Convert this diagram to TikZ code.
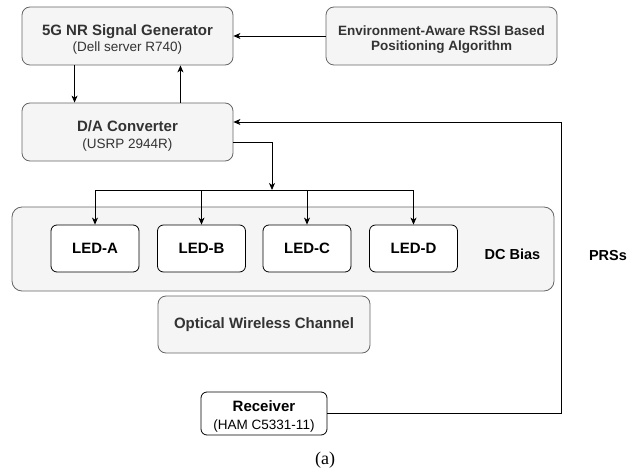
\documentclass[tikz,border=0pt]{standalone}
\usepackage{fontspec}
\setmainfont{Liberation Sans}
\newfontfamily\captionserif{Liberation Serif}
\usepackage{tikz}
\usetikzlibrary{calc,positioning,arrows.meta}
\definecolor{boxgray}{RGB}{245, 245, 245}
\definecolor{edgegray}{RGB}{102, 102, 102}
\definecolor{textgray}{RGB}{51, 51, 51}
\newcommand{\subline}{\fontsize{13.5}{16}\selectfont\mdseries}
\newcommand{\topstrut}{\rule{0pt}{17pt}}

\begin{document}
\begin{tikzpicture}[
    x=1pt, y=-1pt,
    block/.style={draw=edgegray, line width=0.8pt, fill=boxgray, rounded corners=8pt, align=center, text=textgray, font=\fontsize{15}{17}\selectfont\bfseries, inner sep=0pt},
    led/.style={draw=black, line width=0.8pt, fill=white, rounded corners=6pt, minimum width=88pt, minimum height=47pt, align=center, font=\fontsize{15}{17}\selectfont\bfseries, inner sep=0pt},
    tag/.style={font=\fontsize{14.5}{16}\selectfont\bfseries, text=black},
    arrow/.style={-{Stealth[length=7pt, width=6pt, inset=2pt]}, line width=0.8pt, color=black}
]
    \useasboundingbox (0,0) rectangle (639,473);

    % Nodes
    \node [block, minimum width=211pt, minimum height=58pt] (gen) at (127.5,36) {\topstrut 5G NR Signal Generator\\[-1pt]{\subline (Dell server R740)}};
    \node [block, minimum width=231pt, minimum height=58pt, font=\fontsize{13.5}{16}\selectfont\bfseries] (env) at (441.5,36) {\topstrut Environment-Aware RSSI Based\\[-1pt]Positioning Algorithm};
    \node [block, minimum width=211pt, minimum height=58pt] (dac) at (127.5,132) {\rule{0pt}{18pt}D/A Converter\\[0pt]{\subline (USRP 2944R)}};
    \node [block, minimum width=542pt, minimum height=84pt, rounded corners=10pt] (dcbias) at (283,249) {};
    \node [tag] (dclabel) at (512.5,254) {DC Bias};
    \node [led] (leda) at (95,248.5) {LED-A};
    \node [led] (ledb) at (201.5,248.5) {LED-B};
    \node [led] (ledc) at (307,248.5) {LED-C};
    \node [led] (ledd) at (413.5,248.5) {LED-D};
    \node [block, minimum width=212pt, minimum height=57pt] (owc) at (264,324.5) {Optical Wireless Channel};
    \node [led, minimum width=126pt, minimum height=43pt] (rx) at (264,413.5) {\topstrut Receiver\\[1pt]{\subline (HAM C5331-11)}};
    \node [tag] (prslabel) at (608,256) {PRSs};
    \node [font=\captionserif\fontsize{18}{20}\selectfont] (caption) at (325,460) {(a)};
    \coordinate (bus) at (272,190);
    \coordinate (prs) at (561,122);

    % Paths
    \draw [arrow] (env) -- (gen);
    \draw [arrow] ($(gen.south west)!0.25!(gen.south east)$) -- ($(dac.north west)!0.25!(dac.north east)$);
    \draw [arrow] ($(dac.north west)!0.75!(dac.north east)$) -- ($(gen.south west)!0.75!(gen.south east)$);
    \draw [arrow] ([yshift=-10pt]dac.east) -| (bus);
    \draw [line width=0.8pt] (leda |- bus) -- (ledd |- bus);
    \foreach \led in {leda,ledb,ledc,ledd}
        \draw [arrow] (\led |- bus) -- (\led.north);
    \draw [arrow] (rx.east) -| (prs) -- ([yshift=10pt]dac.east);
\end{tikzpicture}
\end{document}
